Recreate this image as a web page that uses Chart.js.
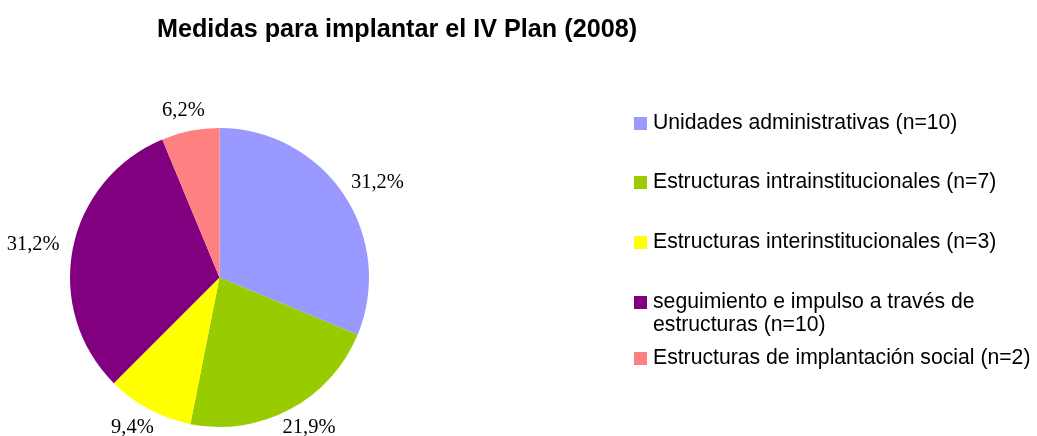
<!DOCTYPE html>
<html>
<head>
<meta charset="utf-8">
<script src="https://cdn.jsdelivr.net/npm/chart.js@4"></script>
<style>
  html, body { margin: 0; padding: 0; background: #fff; }
  #wrap { position: relative; width: 1037px; height: 436px; overflow: hidden; }
  #myChart { position: absolute; left: 0; top: 0; }
  .title {
    position: absolute; left: 0; width: 794px; top: 14px; text-align: center;
    font: bold 25.2px "Liberation Sans", Arial, sans-serif; line-height: 28px; color: #000;
  }
  .legend-item { position: absolute; left: 634px; width: 410px; }
  .legend-box { position: absolute; left: 0; top: 7px; width: 13px; height: 13px; }
  .legend-text {
    position: absolute; left: 19px; width: 385px;
    font: 21.2px "Liberation Sans", Arial, sans-serif; line-height: 23px; color: #000;
  }
</style>
</head>
<body>
<div id="wrap">
  <canvas id="myChart" width="1037" height="436"></canvas>
  <div class="title" id="chartTitle"></div>
  <div id="legend"></div>
</div>
<script>
var chartTitle = "Medidas para implantar el IV Plan (2008)";
var categories = [
    "Unidades administrativas (n=10)",
    "Estructuras intrainstitucionales (n=7)",
    "Estructuras interinstitucionales (n=3)",
    "seguimiento e impulso a través de estructuras (n=10)",
    "Estructuras de implantación social (n=2)"
];
var counts = [10, 7, 3, 10, 2];
var pctLabels = ["31,2%", "21,9%", "9,4%", "31,2%", "6,2%"];
var colors = ["#9999FF", "#99CC00", "#FFFF00", "#800080", "#FF8080"];

// legend rows (top of text line)
var legendRowTops = [110, 169, 229, 289, 345];

var buildLegend = () => {
    let legend = document.getElementById("legend");
    for (let i = 0; i < categories.length; i++) {
        let item = document.createElement("div");
        item.className = "legend-item";
        item.style.top = legendRowTops[i] + "px";
        let box = document.createElement("div");
        box.className = "legend-box";
        box.style.background = colors[i];
        let txt = document.createElement("div");
        txt.className = "legend-text";
        txt.textContent = categories[i];
        item.appendChild(box);
        item.appendChild(txt);
        legend.appendChild(item);
    }
}

// labels outside each slice: the text box is pushed out along the middle angle
var outsideLabels = {
    id: "outsideLabels",
    afterDatasetsDraw(chart) {
        const ctx = chart.ctx;
        const meta = chart.getDatasetMeta(0);
        ctx.save();
        ctx.font = '20.5px "Liberation Serif", "Times New Roman", serif';
        ctx.fillStyle = "#000";
        ctx.textAlign = "center";
        ctx.textBaseline = "middle";
        meta.data.forEach((arc, i) => {
            const p = arc.getProps(["x", "y", "startAngle", "endAngle", "outerRadius"], true);
            const mid = (p.startAngle + p.endAngle) / 2;
            const dist = p.outerRadius + 14;
            const halfW = ctx.measureText(pctLabels[i]).width / 2;
            const halfH = 7;
            const x = p.x + Math.cos(mid) * (dist + halfW);
            const y = p.y + Math.sin(mid) * dist + Math.sin(mid) * halfH;
            ctx.fillText(pctLabels[i], x, y);
        });
        ctx.restore();
    }
}

window.onload = () => {
    document.getElementById("chartTitle").textContent = chartTitle;
    buildLegend();
    const ctx = document.getElementById("myChart").getContext("2d");
    new Chart(ctx, {
        type: "pie",
        data: {
            labels: categories,
            datasets: [{
                data: counts,
                backgroundColor: colors,
                borderWidth: 0
            }]
        },
        options: {
            responsive: false,
            animation: false,
            layout: {
                padding: { left: 70, right: 668, top: 128, bottom: 9 }
            },
            plugins: {
                legend: { display: false },
                tooltip: { enabled: false }
            }
        },
        plugins: [outsideLabels]
    });
}
</script>
</body>
</html>
